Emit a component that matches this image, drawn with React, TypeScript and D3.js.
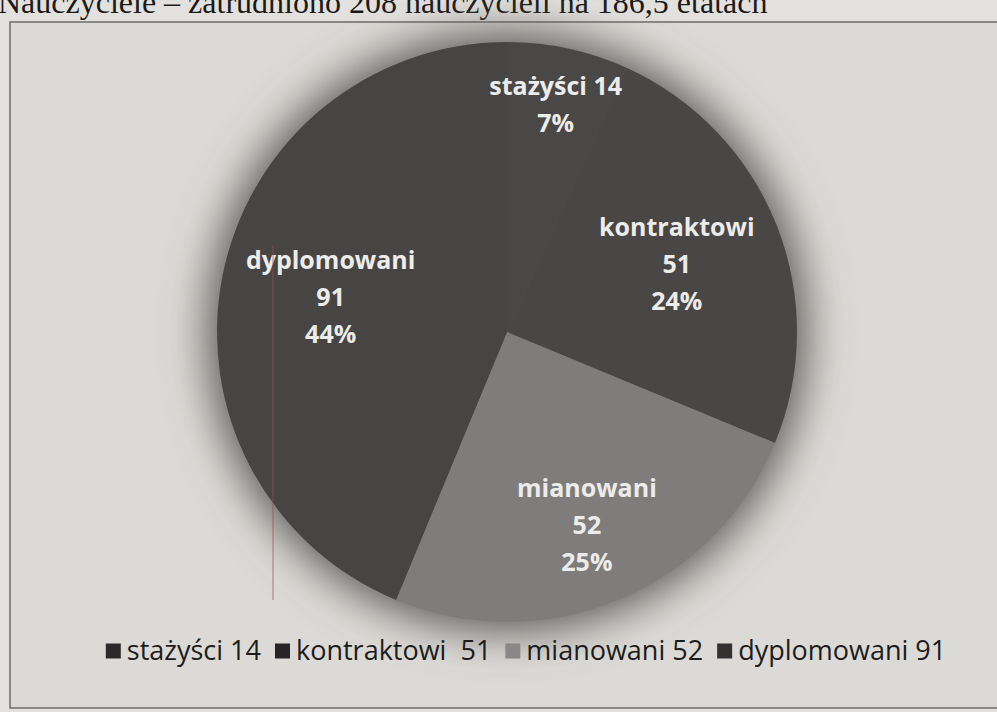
import React, { useEffect, useRef } from 'react';
import * as d3 from 'd3';

const categories = ['stażyści', 'kontraktowi', 'mianowani', 'dyplomowani'];
const values = [14, 51, 52, 91];
const percents = ['7%', '24%', '25%', '44%'];
const legendLabels = ['stażyści 14', 'kontraktowi  51', 'mianowani 52', 'dyplomowani 91'];
const sliceColors = ['#4a4847', '#494746', '#7f7d7b', '#474544'];
const legendColors = ['#2a2828', '#262424', '#8a8886', '#333131'];
// how far out (fraction of radius) each slice's label sits
const labelRadius = [0.8, 0.63, 0.72, 0.62];
const title = 'Nauczyciele – zatrudniono 208 nauczycieli na 186,5 etatach';

export default function App() {
  const svgRef = useRef<SVGSVGElement>(null);

  useEffect(() => {
    if (!svgRef.current) return;
    const svg = d3.select(svgRef.current);
    svg.selectAll('*').remove();

    const width = 997;
    const height = 712;
    const cx = 507;
    const cy = 332;
    const r = 290;

    const defs = svg.append('defs');
    defs.append('filter')
      .attr('id', 'glow')
      .attr('x', '-30%').attr('y', '-30%').attr('width', '160%').attr('height', '160%')
      .append('feGaussianBlur')
      .attr('stdDeviation', 22);

    // page background
    svg.append('rect')
      .attr('width', width).attr('height', height)
      .attr('fill', '#e3e1dd');

    // title line, clipped by the scan at the top
    svg.append('text')
      .attr('x', -2).attr('y', 13)
      .attr('font-family', '"Liberation Serif", serif')
      .attr('font-size', 32)
      .attr('fill', '#1a1a1a')
      .text(title);

    // chart area
    svg.append('rect')
      .attr('x', 10).attr('y', 22)
      .attr('width', 990).attr('height', 686)
      .attr('fill', '#dcdad6')
      .attr('stroke', '#6e6c6a')
      .attr('stroke-width', 1.5);

    const g = svg.append('g').attr('transform', `translate(${cx},${cy})`);

    // soft shadow around the pie
    g.append('circle')
      .attr('r', r + 10)
      .attr('fill', '#5e5c5a')
      .attr('filter', 'url(#glow)');

    const pie = d3.pie<number>().sort(null).value(d => d);
    const arcs = pie(values);
    const arc = d3.arc<d3.PieArcDatum<number>>().innerRadius(0).outerRadius(r);

    g.selectAll('path.slice')
      .data(arcs)
      .join('path')
      .attr('class', 'slice')
      .attr('d', arc)
      .attr('fill', (_, i) => sliceColors[i]);

    // scan artifact: thin reddish line
    svg.append('line')
      .attr('x1', 273).attr('x2', 273)
      .attr('y1', 245).attr('y2', 600)
      .attr('stroke', '#9a4a55')
      .attr('stroke-opacity', 0.7)
      .attr('stroke-width', 1);

    // data labels
    arcs.forEach((d, i) => {
      const k = labelRadius[i] * r;
      const [lx, ly] = d3.arc<d3.PieArcDatum<number>>().innerRadius(k).outerRadius(k).centroid(d);
      const lines = i === 0
        ? [`${categories[i]} ${values[i]}`, percents[i]]
        : [categories[i], String(values[i]), percents[i]];
      const lh = 37;
      const t = g.append('text')
        .attr('text-anchor', 'middle')
        .attr('font-family', '"Open Sans", sans-serif')
        .attr('font-weight', 'bold')
        .attr('font-size', 25)
        .attr('fill', '#ececea');
      lines.forEach((s, j) => {
        t.append('tspan')
          .attr('x', lx)
          .attr('y', ly + (j - (lines.length - 1) / 2) * lh)
          .attr('dy', '0.35em')
          .text(s);
      });
    });

    // legend
    const legend = svg.append('g');
    const box = 15;
    const gap = 6;
    const itemGap = 14;
    let x = 0;
    legendLabels.forEach((label, i) => {
      const item = legend.append('g');
      item.append('rect')
        .attr('x', 0).attr('y', -box / 2)
        .attr('width', box).attr('height', box)
        .attr('fill', legendColors[i]);
      const txt = item.append('text')
        .attr('x', box + gap)
        .attr('dy', '0.35em')
        .attr('font-family', '"Open Sans", sans-serif')
        .attr('font-size', 27)
        .attr('fill', '#1c1c1c')
        .style('white-space', 'pre')
        .text(label);
      const w = box + gap + (txt.node() as SVGTextElement).getComputedTextLength();
      item.attr('transform', `translate(${x},0)`);
      x += w + itemGap;
    });
    const total = x - itemGap;
    legend.attr('transform', `translate(${526 - total / 2},651)`);
  }, []);

  return (
    <svg
      ref={svgRef}
      width={997}
      height={712}
      style={{ position: 'absolute', left: 0, top: 0 }}
    />
  );
}
